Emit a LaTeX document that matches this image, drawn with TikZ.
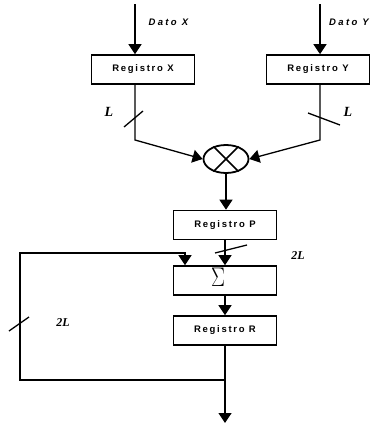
\documentclass[tikz,border=0pt]{standalone}
\usepackage{fontspec}
\usepackage{graphicx}
\usetikzlibrary{arrows.meta,shapes.geometric,positioning}
\newfontfamily\regfont[LetterSpace=18]{Liberation Sans}
\newfontfamily\datofont[LetterSpace=25]{Liberation Sans}
\newfontfamily\busfont{Liberation Serif}

\begin{document}
\begin{tikzpicture}[x=1pt, y=-1pt,
    register/.style={draw, line width=1.7pt, inner sep=0pt,
      minimum width=103pt, minimum height=29pt,
      font=\regfont\bfseries\fontsize{9.5}{11}\selectfont},
    inlabel/.style={font=\datofont\bfseries\itshape\fontsize{9.5}{11}\selectfont},
    buslabel/.style={font=\busfont\bfseries\itshape\fontsize{14}{16}\selectfont},
    widelabel/.style={font=\busfont\bfseries\itshape\fontsize{12}{14}\selectfont},
    wire/.style={line width=1.3pt},
    arrow/.style={wire, -{Triangle[length=10pt, width=13pt]}},
    ]
    \useasboundingbox (0,0) rectangle (370,423);
    % input registers
    \node[register] (regX) at (143,69.5) {Registro X};
    \node[register] (regY) at (318,69.5) {Registro Y};
    \coordinate (inX) at (135,4);
    \coordinate (inY) at (320,4);
    \node[inlabel, anchor=west] (datoX) at (145,22) {Dato X};
    \node[inlabel, anchor=east, inner sep=1pt] (datoY) at (370,22) {Dato Y};
    \draw[arrow] (inX) -- (inX |- regX.north);
    \draw[arrow] (inY) -- (inY |- regY.north);
    % multiplier
    \node[draw, ellipse, line width=1.8pt, minimum width=45pt,
      minimum height=28pt, inner sep=0pt] (mult) at (226,159) {};
    \draw[line width=1.5pt] (mult.45) -- (mult.225);
    \draw[line width=1.5pt] (mult.135) -- (mult.315);
    \coordinate (bendX) at (135,140);
    \coordinate (bendY) at (320,140);
    \draw[arrow] (inX |- regX.south) -- (bendX) -- (mult.west);
    \draw[arrow] (inY |- regY.south) -- (bendY) -- (mult.east);
    \draw[wire] (124,127) -- (143,111);
    \draw[wire] (308,113) -- (340,125);
    \node[buslabel] (lenX) at (109,112) {L};
    \node[buslabel] (lenY) at (348,112) {L};
    % accumulator
    \node[register] (regP) at (225,225) {Registro P};
    \node[register] (sum) at (225,280.5) {};
    \node (sigma) at ([xshift=-7pt, yshift=3.5pt]sum.center)
      {\scalebox{1}[1.3]{\fontsize{22}{22}\selectfont$\Sigma$}};
    \node[register] (regR) at (225,330.5) {Registro R};
    \draw[arrow] (mult.south) -- (mult.south |- regP.north);
    \draw[arrow] (regP.south) -- (sum.north);
    \draw[arrow] (sum.south) -- (regR.north);
    \draw[wire] (215,253) -- (247,245);
    \node[widelabel] (lenP) at (298,256) {2L};
    % feedback
    \coordinate (fb) at (225,380);
    \coordinate (fbtop) at (20,253);
    \coordinate (out) at (225,423);
    \draw[arrow] (regR.south) -- (out);
    \draw[arrow] (fb) -| (fbtop) -| ([xshift=-40pt]sum.north);
    \draw[wire] (9,331) -- (29,317);
    \node[widelabel] (lenR) at (63,323) {2L};
\end{tikzpicture}
\end{document}
